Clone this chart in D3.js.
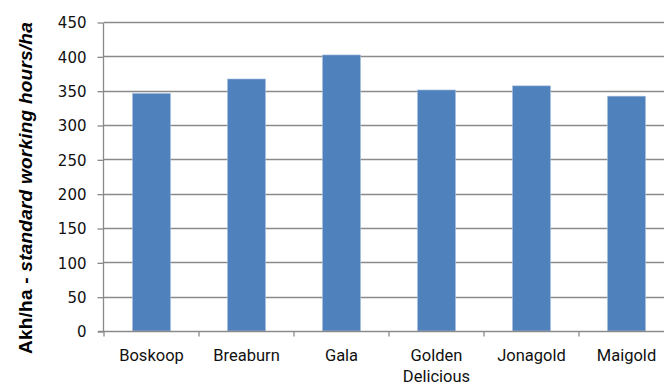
<!DOCTYPE html>
<html>
<head>
<meta charset="utf-8">
<script src="https://cdn.jsdelivr.net/npm/d3@7"></script>
<style>
html,body{margin:0;padding:0;background:#fff;}
svg{display:block;}
</style>
</head>
<body>
<svg id="chart" width="664" height="385"></svg>
<script>
const categories = ["Boskoop", "Breaburn", "Gala", "Golden Delicious", "Jonagold", "Maigold"];
const categoryLines = [["Boskoop"], ["Breaburn"], ["Gala"], ["Golden", "Delicious"], ["Jonagold"], ["Maigold"]];
const values = [346, 367, 402, 351, 357, 342];
const yTicks = [0, 50, 100, 150, 200, 250, 300, 350, 400, 450];
const yTitleBold = "Akh/ha - ";
const yTitleItalic = "standard working hours/ha";

(function() {
const svg = d3.select("#chart");
const pLeft = 104, pRight = 674, pTop = 22, pBottom = 331;

const x = d3.scaleBand().domain(categories).range([pLeft, pRight]).paddingInner(0.6).paddingOuter(0.3);
const y = d3.scaleLinear().domain([0, 450]).range([pBottom, pTop]);

const gridColor = "#8a8a8a";

// gridlines
svg.append("g").selectAll("line").data(yTicks.filter(d => d > 0)).join("line")
  .attr("x1", pLeft).attr("x2", pRight)
  .attr("y1", d => Math.round(y(d)) + 0.5).attr("y2", d => Math.round(y(d)) + 0.5)
  .attr("stroke", gridColor).attr("stroke-width", 1.3);

// bars
svg.append("g").selectAll("rect").data(values).join("rect")
  .attr("x", (d, i) => x(categories[i]))
  .attr("y", d => y(d))
  .attr("width", x.bandwidth())
  .attr("height", d => pBottom - y(d))
  .attr("fill", "#4F81BD")
  .attr("stroke", "#a7bfde").attr("stroke-width", 0.6);

// y axis
const yAxis = d3.axisLeft(y).tickValues(yTicks).tickSize(6).tickPadding(11).tickFormat(d3.format("d"));
const gy = svg.append("g").attr("transform", `translate(${pLeft - 0.5},0.5)`).call(yAxis);
gy.select(".domain").attr("stroke", gridColor).attr("stroke-width", 1.3).attr("d", `M0,${pTop}V${pBottom}`);
gy.selectAll(".tick line").attr("stroke", gridColor).attr("stroke-width", 1.3);
gy.selectAll(".tick text").attr("font-family", "'DejaVu Sans', sans-serif").attr("font-size", 15).attr("fill", "#111").attr("dy", "0.36em");

// x axis
const gx = svg.append("g").attr("transform", `translate(0,${pBottom + 0.5})`);
gx.append("line").attr("x1", pLeft - 6).attr("x2", 664).attr("y1", 0).attr("y2", 0)
  .attr("stroke", gridColor).attr("stroke-width", 1.3);
const half = (x.step() - x.bandwidth()) / 2;
const boundaries = categories.map(c => x(c) - half).concat([x(categories[categories.length-1]) + x.bandwidth() + half]);
gx.selectAll("line.tk").data(boundaries).join("line").attr("class", "tk")
  .attr("x1", d => d).attr("x2", d => d).attr("y1", 0).attr("y2", 5)
  .attr("stroke", gridColor).attr("stroke-width", 1.3);
const lbl = gx.selectAll("text").data(categories).join("text")
  .attr("text-anchor", "middle")
  .attr("font-family", "Roboto, sans-serif").attr("font-size", 16.5).attr("fill", "#111");
lbl.each(function(d, i) {
  const t = d3.select(this);
  categoryLines[i].forEach((ln, j) => {
    t.append("tspan").attr("x", x(d) + x.bandwidth() / 2).attr("y", 29 + j * 21).text(ln);
  });
});

// y title
const tt = svg.append("text")
  .attr("transform", "translate(32,188) rotate(-90)")
  .attr("text-anchor", "middle")
  .attr("font-family", "'Liberation Sans', Arial, sans-serif").attr("font-size", 19).attr("font-weight", "bold").attr("fill", "#000");
tt.append("tspan").text(yTitleBold);
tt.append("tspan").attr("font-style", "italic").text(yTitleItalic);
const targetLen = 332;
const curLen = tt.node().getComputedTextLength();
const nChars = (yTitleBold + yTitleItalic).length;
if (curLen < targetLen) tt.attr("letter-spacing", ((targetLen - curLen) / nChars).toFixed(3));
})();
</script>
</body>
</html>
